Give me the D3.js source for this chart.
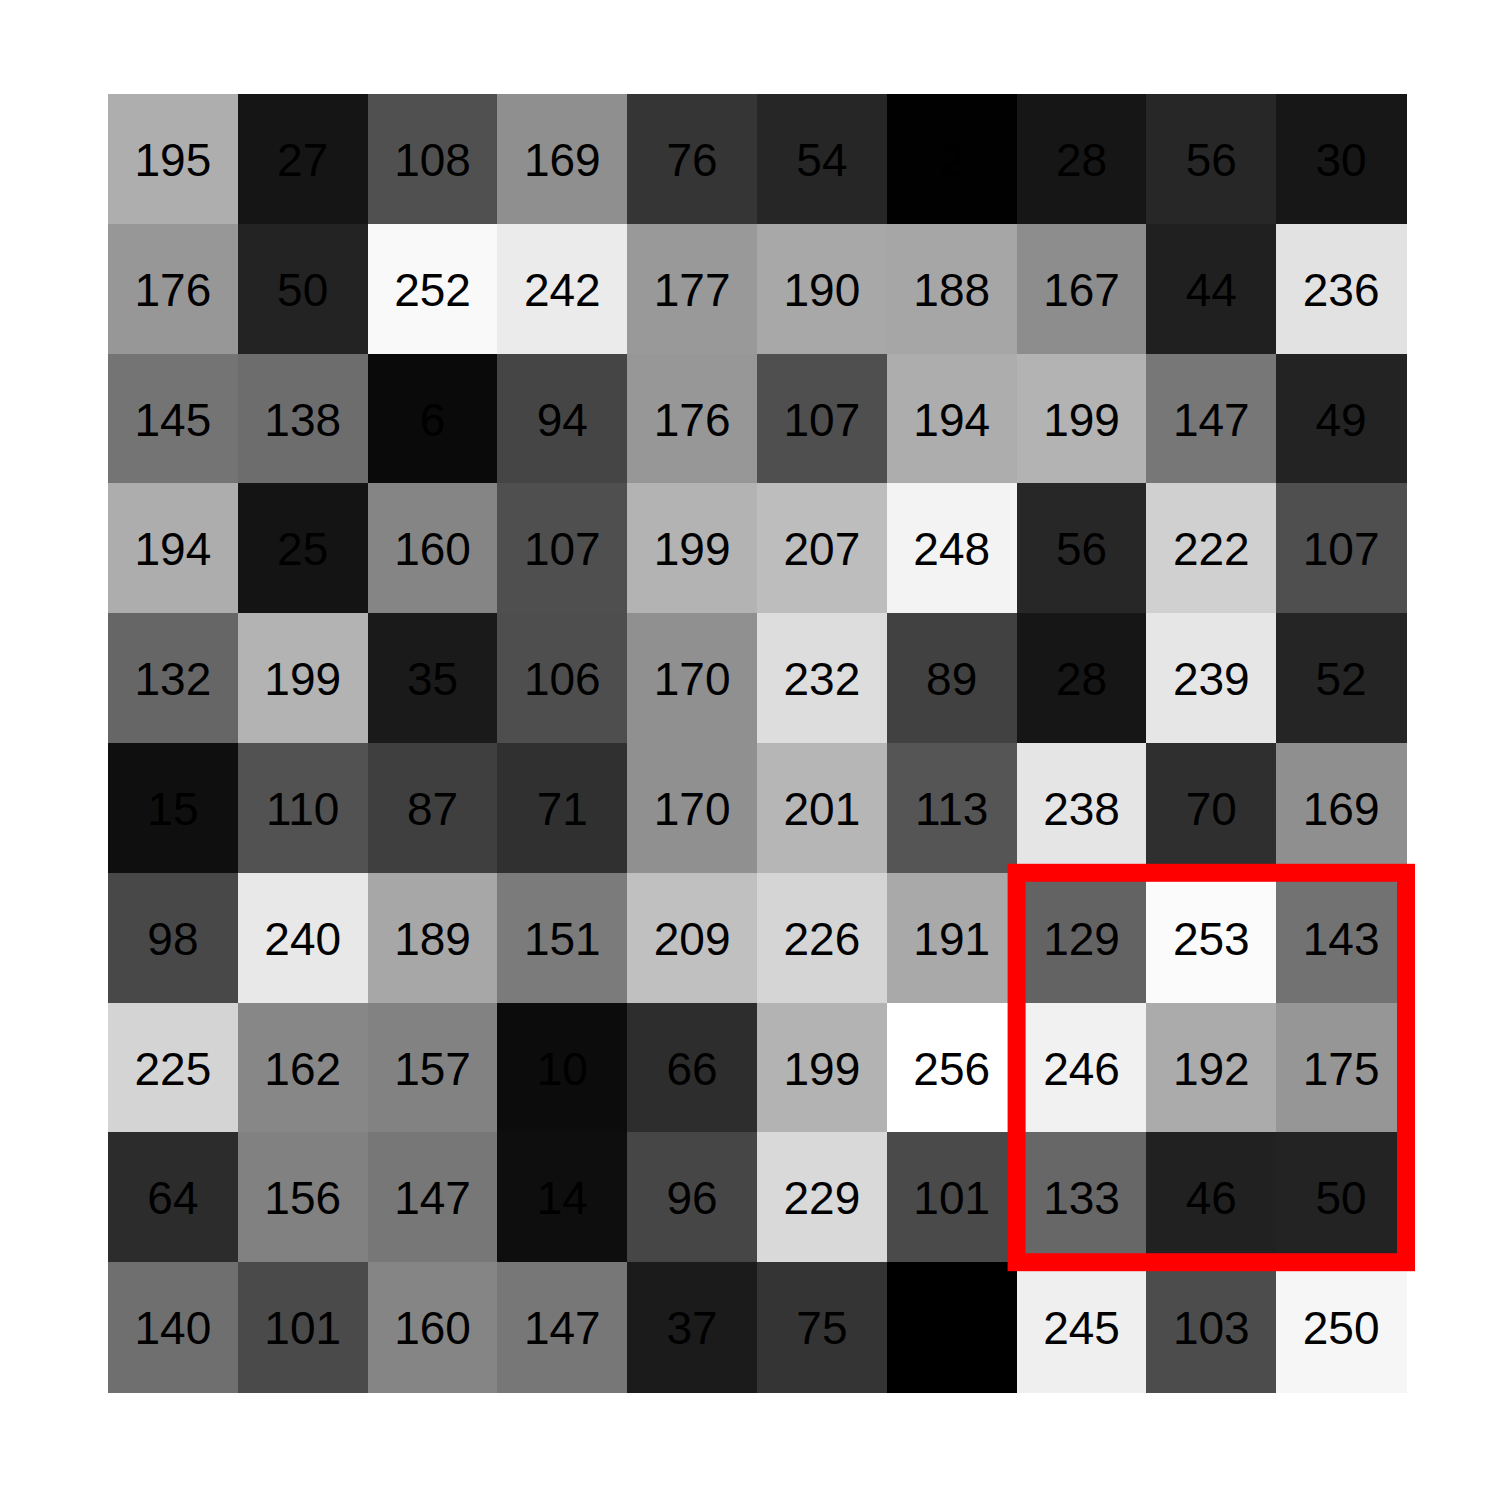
<!DOCTYPE html>
<html>
<head>
<meta charset="utf-8">
<script src="https://cdn.jsdelivr.net/npm/d3@7"></script>
<style>
  html, body { margin: 0; padding: 0; background: #ffffff; }
  svg { display: block; }
</style>
</head>
<body>
<script>
// ---- data ----
const rowIds = [0, 1, 2, 3, 4, 5, 6, 7, 8, 9];
const colIds = [0, 1, 2, 3, 4, 5, 6, 7, 8, 9];
const values = [
  [195,  27, 108, 169,  76,  54,   2,  28,  56,  30],
  [176,  50, 252, 242, 177, 190, 188, 167,  44, 236],
  [145, 138,   6,  94, 176, 107, 194, 199, 147,  49],
  [194,  25, 160, 107, 199, 207, 248,  56, 222, 107],
  [132, 199,  35, 106, 170, 232,  89,  28, 239,  52],
  [ 15, 110,  87,  71, 170, 201, 113, 238,  70, 169],
  [ 98, 240, 189, 151, 209, 226, 191, 129, 253, 143],
  [225, 162, 157,  10,  66, 199, 256, 246, 192, 175],
  [ 64, 156, 147,  14,  96, 229, 101, 133,  46,  50],
  [140, 101, 160, 147,  37,  75,   1, 245, 103, 250]
];
// grey-level mapping (value -> grey 0..255)
const grayStops  = [1, 2, 6, 15, 27, 35, 54, 71, 87, 108, 132, 169, 199, 236, 256];
const grayLevels = [0, 1, 10, 15, 21, 26, 38, 48, 63,  80, 102, 143, 179, 226, 255];
// highlighted block (first/last row, first/last column)
const highlightRows = [6, 8];
const highlightCols = [7, 9];

// ---- layout ----
const W = 1500, H = 1500;
const gridLeft = 108, gridTop = 94, gridSize = 1298;

const svg = d3.select("body").append("svg")
  .attr("width", W).attr("height", H);

const x = d3.scaleBand().domain(colIds).range([gridLeft, gridLeft + gridSize]).padding(0);
const y = d3.scaleBand().domain(rowIds).range([gridTop, gridTop + gridSize]).padding(0);
const gray = d3.scaleLinear().domain(grayStops).range(grayLevels).clamp(true);

const cells = [];
values.forEach((row, r) => row.forEach((v, c) => cells.push({ r, c, v })));

svg.append("g")
  .attr("shape-rendering", "crispEdges")
  .selectAll("rect")
  .data(cells)
  .join("rect")
  .attr("x", d => x(d.c))
  .attr("y", d => y(d.r))
  .attr("width", x.bandwidth() + 0.5)
  .attr("height", y.bandwidth() + 0.5)
  .attr("fill", d => { const g = Math.round(gray(d.v)); return d3.rgb(g, g, g).formatHex(); });

svg.append("g")
  .selectAll("text")
  .data(cells)
  .join("text")
  .attr("x", d => x(d.c) + x.bandwidth() / 2)
  .attr("y", d => y(d.r) + y.bandwidth() / 2 + 1)
  .attr("text-anchor", "middle")
  .attr("dominant-baseline", "central")
  .attr("font-family", "Liberation Sans, Arial, sans-serif")
  .attr("font-size", 46)
  .attr("fill", "#000000")
  .text(d => d.v);

const hx0 = x(highlightCols[0]);
const hx1 = x(highlightCols[1]) + x.bandwidth();
const hy0 = y(highlightRows[0]);
const hy1 = y(highlightRows[1]) + y.bandwidth();

svg.append("rect")
  .attr("x", hx0)
  .attr("y", hy0)
  .attr("width", hx1 - hx0)
  .attr("height", hy1 - hy0)
  .attr("fill", "none")
  .attr("stroke", "#ff0000")
  .attr("stroke-width", 18);
</script>
</body>
</html>
